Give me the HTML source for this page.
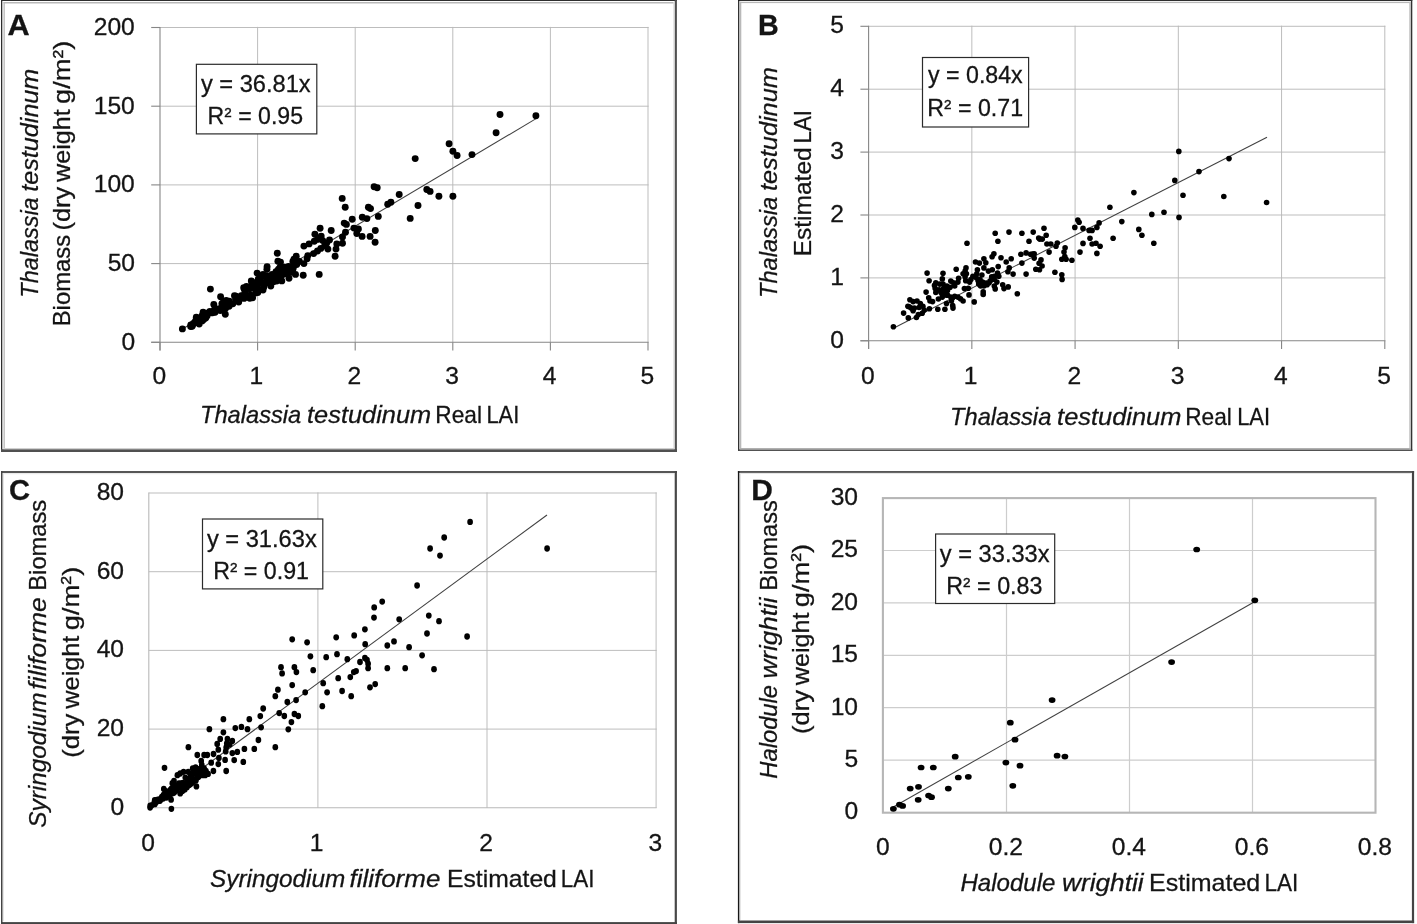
<!DOCTYPE html>
<html lang="en"><head><meta charset="utf-8"><title>Seagrass LAI vs biomass regressions</title>
<style>html,body{margin:0;padding:0;background:#fff;}body{width:1417px;height:924px;overflow:hidden;}</style></head>
<body><svg width="1417" height="924" viewBox="0 0 1417 924" style="display:block;filter:blur(0.35px)"><rect x="1.00" y="0.00" width="676.00" height="1.00" fill="#2e2e2e"/>
<rect x="1.00" y="0.00" width="1.30" height="452.00" fill="#2e2e2e"/>
<rect x="674.70" y="0.00" width="2.20" height="452.00" fill="#505050"/>
<rect x="1.00" y="449.20" width="676.00" height="2.80" fill="#505050"/>
<rect x="3.50" y="2.00" width="670.00" height="1.50" fill="#b9b9b9"/>
<rect x="3.50" y="2.00" width="1.30" height="446.50" fill="#b9b9b9"/>
<rect x="673.50" y="2.00" width="1.20" height="447.00" fill="#d0d0d0"/>
<rect x="3.50" y="448.00" width="671.00" height="1.20" fill="#d0d0d0"/>
<rect x="738.10" y="0.00" width="674.20" height="1.00" fill="#2e2e2e"/>
<rect x="738.10" y="0.00" width="1.20" height="450.80" fill="#1c1c1c"/>
<rect x="1410.90" y="0.00" width="1.40" height="450.80" fill="#333"/>
<rect x="738.10" y="449.40" width="674.20" height="1.50" fill="#404040"/>
<rect x="739.80" y="1.80" width="670.00" height="1.30" fill="#b9b9b9"/>
<rect x="739.80" y="1.80" width="1.50" height="447.00" fill="#b9b9b9"/>
<rect x="1409.30" y="1.80" width="1.60" height="447.60" fill="#bdbdbd"/>
<rect x="739.80" y="448.00" width="671.00" height="1.40" fill="#b0b0b0"/>
<rect x="1.00" y="471.10" width="676.00" height="1.80" fill="#444"/>
<rect x="1.00" y="471.10" width="1.50" height="453.00" fill="#444"/>
<rect x="674.70" y="471.10" width="2.20" height="453.00" fill="#484848"/>
<rect x="1.00" y="922.10" width="676.00" height="2.00" fill="#444"/>
<rect x="3.00" y="473.20" width="671.00" height="1.00" fill="#e6e6e6"/>
<rect x="3.00" y="473.20" width="1.00" height="448.00" fill="#e6e6e6"/>
<rect x="737.90" y="471.10" width="676.20" height="1.70" fill="#444"/>
<rect x="737.90" y="471.10" width="1.50" height="452.00" fill="#161616"/>
<rect x="1411.90" y="471.10" width="2.20" height="452.00" fill="#444"/>
<rect x="737.90" y="920.50" width="676.20" height="2.60" fill="#444"/>
<rect x="739.80" y="473.00" width="671.00" height="1.00" fill="#e6e6e6"/>
<rect x="739.80" y="473.00" width="1.20" height="447.00" fill="#e6e6e6"/>
<line x1="160.00" y1="263.60" x2="648.60" y2="263.60" stroke="#b9b9b9" stroke-width="0.95"/>
<line x1="160.00" y1="184.90" x2="648.60" y2="184.90" stroke="#b9b9b9" stroke-width="0.95"/>
<line x1="160.00" y1="106.20" x2="648.60" y2="106.20" stroke="#b9b9b9" stroke-width="0.95"/>
<line x1="160.00" y1="27.50" x2="648.60" y2="27.50" stroke="#b9b9b9" stroke-width="0.95"/>
<line x1="257.60" y1="26.90" x2="257.60" y2="342.30" stroke="#b9b9b9" stroke-width="0.95"/>
<line x1="355.20" y1="26.90" x2="355.20" y2="342.30" stroke="#b9b9b9" stroke-width="0.95"/>
<line x1="452.80" y1="26.90" x2="452.80" y2="342.30" stroke="#b9b9b9" stroke-width="0.95"/>
<line x1="550.40" y1="26.90" x2="550.40" y2="342.30" stroke="#b9b9b9" stroke-width="0.95"/>
<line x1="648.00" y1="26.90" x2="648.00" y2="342.30" stroke="#b9b9b9" stroke-width="0.95"/>
<line x1="151.20" y1="342.30" x2="160.00" y2="342.30" stroke="#868686" stroke-width="1.1"/>
<line x1="151.20" y1="263.60" x2="160.00" y2="263.60" stroke="#868686" stroke-width="1.1"/>
<line x1="151.20" y1="184.90" x2="160.00" y2="184.90" stroke="#868686" stroke-width="1.1"/>
<line x1="151.20" y1="106.20" x2="160.00" y2="106.20" stroke="#868686" stroke-width="1.1"/>
<line x1="151.20" y1="27.50" x2="160.00" y2="27.50" stroke="#868686" stroke-width="1.1"/>
<line x1="160.00" y1="342.30" x2="160.00" y2="350.50" stroke="#868686" stroke-width="1.1"/>
<line x1="257.60" y1="342.30" x2="257.60" y2="350.50" stroke="#868686" stroke-width="1.1"/>
<line x1="355.20" y1="342.30" x2="355.20" y2="350.50" stroke="#868686" stroke-width="1.1"/>
<line x1="452.80" y1="342.30" x2="452.80" y2="350.50" stroke="#868686" stroke-width="1.1"/>
<line x1="550.40" y1="342.30" x2="550.40" y2="350.50" stroke="#868686" stroke-width="1.1"/>
<line x1="648.00" y1="342.30" x2="648.00" y2="350.50" stroke="#868686" stroke-width="1.1"/>
<line x1="160.00" y1="26.90" x2="160.00" y2="350.50" stroke="#868686" stroke-width="1.1"/>
<line x1="151.20" y1="342.30" x2="648.60" y2="342.30" stroke="#868686" stroke-width="1.1"/>
<line x1="868.60" y1="277.90" x2="1385.40" y2="277.90" stroke="#b9b9b9" stroke-width="0.95"/>
<line x1="868.60" y1="215.00" x2="1385.40" y2="215.00" stroke="#b9b9b9" stroke-width="0.95"/>
<line x1="868.60" y1="152.10" x2="1385.40" y2="152.10" stroke="#b9b9b9" stroke-width="0.95"/>
<line x1="868.60" y1="89.20" x2="1385.40" y2="89.20" stroke="#b9b9b9" stroke-width="0.95"/>
<line x1="868.60" y1="26.30" x2="1385.40" y2="26.30" stroke="#b9b9b9" stroke-width="0.95"/>
<line x1="971.84" y1="25.70" x2="971.84" y2="340.80" stroke="#b9b9b9" stroke-width="0.95"/>
<line x1="1075.08" y1="25.70" x2="1075.08" y2="340.80" stroke="#b9b9b9" stroke-width="0.95"/>
<line x1="1178.32" y1="25.70" x2="1178.32" y2="340.80" stroke="#b9b9b9" stroke-width="0.95"/>
<line x1="1281.56" y1="25.70" x2="1281.56" y2="340.80" stroke="#b9b9b9" stroke-width="0.95"/>
<line x1="1384.80" y1="25.70" x2="1384.80" y2="340.80" stroke="#b9b9b9" stroke-width="0.95"/>
<line x1="860.40" y1="340.80" x2="868.60" y2="340.80" stroke="#868686" stroke-width="1.1"/>
<line x1="860.40" y1="277.90" x2="868.60" y2="277.90" stroke="#868686" stroke-width="1.1"/>
<line x1="860.40" y1="215.00" x2="868.60" y2="215.00" stroke="#868686" stroke-width="1.1"/>
<line x1="860.40" y1="152.10" x2="868.60" y2="152.10" stroke="#868686" stroke-width="1.1"/>
<line x1="860.40" y1="89.20" x2="868.60" y2="89.20" stroke="#868686" stroke-width="1.1"/>
<line x1="860.40" y1="26.30" x2="868.60" y2="26.30" stroke="#868686" stroke-width="1.1"/>
<line x1="868.60" y1="340.80" x2="868.60" y2="349.00" stroke="#868686" stroke-width="1.1"/>
<line x1="971.84" y1="340.80" x2="971.84" y2="349.00" stroke="#868686" stroke-width="1.1"/>
<line x1="1075.08" y1="340.80" x2="1075.08" y2="349.00" stroke="#868686" stroke-width="1.1"/>
<line x1="1178.32" y1="340.80" x2="1178.32" y2="349.00" stroke="#868686" stroke-width="1.1"/>
<line x1="1281.56" y1="340.80" x2="1281.56" y2="349.00" stroke="#868686" stroke-width="1.1"/>
<line x1="1384.80" y1="340.80" x2="1384.80" y2="349.00" stroke="#868686" stroke-width="1.1"/>
<line x1="868.60" y1="25.70" x2="868.60" y2="349.00" stroke="#868686" stroke-width="1.1"/>
<line x1="860.40" y1="340.80" x2="1385.40" y2="340.80" stroke="#868686" stroke-width="1.1"/>
<line x1="148.80" y1="729.10" x2="656.70" y2="729.10" stroke="#b9b9b9" stroke-width="0.95"/>
<line x1="148.80" y1="650.40" x2="656.70" y2="650.40" stroke="#b9b9b9" stroke-width="0.95"/>
<line x1="148.80" y1="571.70" x2="656.70" y2="571.70" stroke="#b9b9b9" stroke-width="0.95"/>
<line x1="148.80" y1="493.00" x2="656.70" y2="493.00" stroke="#b9b9b9" stroke-width="0.95"/>
<line x1="317.90" y1="492.40" x2="317.90" y2="807.80" stroke="#b9b9b9" stroke-width="0.95"/>
<line x1="487.00" y1="492.40" x2="487.00" y2="807.80" stroke="#b9b9b9" stroke-width="0.95"/>
<line x1="656.10" y1="492.40" x2="656.10" y2="807.80" stroke="#b9b9b9" stroke-width="0.95"/>
<line x1="148.80" y1="492.40" x2="148.80" y2="808.40" stroke="#b8b8b8" stroke-width="1.1"/>
<line x1="148.20" y1="807.80" x2="656.70" y2="807.80" stroke="#b8b8b8" stroke-width="1.1"/>
<line x1="883.50" y1="760.10" x2="1375.50" y2="760.10" stroke="#cdcdcd" stroke-width="1.2"/>
<line x1="883.50" y1="707.70" x2="1375.50" y2="707.70" stroke="#cdcdcd" stroke-width="1.2"/>
<line x1="883.50" y1="655.30" x2="1375.50" y2="655.30" stroke="#cdcdcd" stroke-width="1.2"/>
<line x1="883.50" y1="602.90" x2="1375.50" y2="602.90" stroke="#cdcdcd" stroke-width="1.2"/>
<line x1="883.50" y1="550.50" x2="1375.50" y2="550.50" stroke="#cdcdcd" stroke-width="1.2"/>
<line x1="1006.50" y1="498.10" x2="1006.50" y2="812.50" stroke="#cdcdcd" stroke-width="1.2"/>
<line x1="1129.50" y1="498.10" x2="1129.50" y2="812.50" stroke="#cdcdcd" stroke-width="1.2"/>
<line x1="1252.50" y1="498.10" x2="1252.50" y2="812.50" stroke="#cdcdcd" stroke-width="1.2"/>
<rect x="882.90" y="498.10" width="492.60" height="314.60" fill="none" stroke="#b6b6b6" stroke-width="2.1"/>
<line x1="182.40" y1="329.00" x2="536.50" y2="118.40" stroke="#404040" stroke-width="1.05"/>
<line x1="893.40" y1="328.20" x2="1267.00" y2="137.20" stroke="#404040" stroke-width="1.05"/>
<line x1="150.00" y1="806.60" x2="547.00" y2="515.00" stroke="#404040" stroke-width="1.05"/>
<line x1="893.30" y1="807.00" x2="1255.00" y2="601.50" stroke="#404040" stroke-width="1.05"/>
<g fill="#000"><circle cx="500.0" cy="114.5" r="3.45"/><circle cx="535.9" cy="115.8" r="3.45"/><circle cx="496.1" cy="132.7" r="3.45"/><circle cx="449.1" cy="143.7" r="3.45"/><circle cx="452.9" cy="151.3" r="3.45"/><circle cx="457.1" cy="155.5" r="3.45"/><circle cx="472.0" cy="154.6" r="3.45"/><circle cx="415.2" cy="158.6" r="3.45"/><circle cx="426.8" cy="189.5" r="3.45"/><circle cx="430.1" cy="191.4" r="3.45"/><circle cx="438.9" cy="196.3" r="3.45"/><circle cx="452.9" cy="196.3" r="3.45"/><circle cx="399.2" cy="194.5" r="3.45"/><circle cx="390.9" cy="202.2" r="3.45"/><circle cx="418.0" cy="205.5" r="3.45"/><circle cx="410.2" cy="218.4" r="3.45"/><circle cx="342.2" cy="198.4" r="3.45"/><circle cx="345.2" cy="207.3" r="3.45"/><circle cx="368.4" cy="207.3" r="3.45"/><circle cx="370.5" cy="208.6" r="3.45"/><circle cx="387.7" cy="204.3" r="3.45"/><circle cx="378.3" cy="216.4" r="3.45"/><circle cx="362.3" cy="217.3" r="3.45"/><circle cx="366.9" cy="218.6" r="3.45"/><circle cx="352.2" cy="219.2" r="3.45"/><circle cx="344.2" cy="223.1" r="3.45"/><circle cx="346.4" cy="224.4" r="3.45"/><circle cx="353.9" cy="228.1" r="3.45"/><circle cx="358.4" cy="229.0" r="3.45"/><circle cx="356.8" cy="233.5" r="3.45"/><circle cx="362.1" cy="236.4" r="3.45"/><circle cx="370.1" cy="236.4" r="3.45"/><circle cx="375.3" cy="230.5" r="3.45"/><circle cx="375.1" cy="242.3" r="3.45"/><circle cx="320.1" cy="228.3" r="3.45"/><circle cx="331.2" cy="230.5" r="3.45"/><circle cx="314.9" cy="234.2" r="3.45"/><circle cx="321.2" cy="236.1" r="3.45"/><circle cx="345.5" cy="232.2" r="3.45"/><circle cx="342.5" cy="237.0" r="3.45"/><circle cx="329.5" cy="240.0" r="3.45"/><circle cx="342.5" cy="243.2" r="3.45"/><circle cx="336.8" cy="243.9" r="3.45"/><circle cx="336.0" cy="249.1" r="3.45"/><circle cx="335.1" cy="256.2" r="3.45"/><circle cx="303.9" cy="246.1" r="3.45"/><circle cx="309.1" cy="243.9" r="3.45"/><circle cx="314.3" cy="241.3" r="3.45"/><circle cx="317.5" cy="239.4" r="3.45"/><circle cx="322.7" cy="240.6" r="3.45"/><circle cx="326.6" cy="243.2" r="3.45"/><circle cx="324.7" cy="245.8" r="3.45"/><circle cx="320.8" cy="248.4" r="3.45"/><circle cx="327.9" cy="249.1" r="3.45"/><circle cx="317.5" cy="251.0" r="3.45"/><circle cx="313.6" cy="253.6" r="3.45"/><circle cx="307.8" cy="255.6" r="3.45"/><circle cx="307.1" cy="258.8" r="3.45"/><circle cx="277.3" cy="253.2" r="3.45"/><circle cx="277.9" cy="261.2" r="3.45"/><circle cx="280.5" cy="262.1" r="3.45"/><circle cx="292.9" cy="261.4" r="3.45"/><circle cx="294.8" cy="264.0" r="3.45"/><circle cx="299.4" cy="261.4" r="3.45"/><circle cx="303.9" cy="263.6" r="3.45"/><circle cx="267.1" cy="266.6" r="3.45"/><circle cx="266.9" cy="269.2" r="3.45"/><circle cx="257.1" cy="273.1" r="3.45"/><circle cx="263.0" cy="274.4" r="3.45"/><circle cx="276.0" cy="271.8" r="3.45"/><circle cx="278.6" cy="269.2" r="3.45"/><circle cx="282.5" cy="270.5" r="3.45"/><circle cx="286.4" cy="267.9" r="3.45"/><circle cx="289.0" cy="271.8" r="3.45"/><circle cx="292.9" cy="269.2" r="3.45"/><circle cx="295.5" cy="274.4" r="3.45"/><circle cx="303.2" cy="275.3" r="3.45"/><circle cx="319.2" cy="274.4" r="3.45"/><circle cx="289.0" cy="278.3" r="3.45"/><circle cx="281.8" cy="280.9" r="3.45"/><circle cx="273.4" cy="278.3" r="3.45"/><circle cx="269.5" cy="280.9" r="3.45"/><circle cx="265.6" cy="283.5" r="3.45"/><circle cx="270.8" cy="286.1" r="3.45"/><circle cx="263.0" cy="290.0" r="3.45"/><circle cx="257.8" cy="292.6" r="3.45"/><circle cx="252.6" cy="297.8" r="3.45"/><circle cx="251.3" cy="280.9" r="3.45"/><circle cx="255.2" cy="286.1" r="3.45"/><circle cx="259.1" cy="283.5" r="3.45"/><circle cx="285.7" cy="273.1" r="3.45"/><circle cx="279.9" cy="275.7" r="3.45"/><circle cx="276.0" cy="277.0" r="3.45"/><circle cx="272.1" cy="274.4" r="3.45"/><circle cx="374.1" cy="186.8" r="3.45"/><circle cx="377.2" cy="187.7" r="3.45"/><circle cx="182.4" cy="328.9" r="3.45"/><circle cx="210.4" cy="289.1" r="3.45"/><circle cx="225.3" cy="314.3" r="3.45"/><circle cx="220.6" cy="296.7" r="3.45"/><circle cx="213.8" cy="304.5" r="3.45"/><circle cx="203.1" cy="312.3" r="3.45"/><circle cx="196.3" cy="317.2" r="3.45"/><circle cx="192.4" cy="325.0" r="3.45"/><circle cx="199.2" cy="324.0" r="3.45"/><circle cx="249.8" cy="298.2" r="3.45"/><circle cx="221.9" cy="303.6" r="3.45"/><circle cx="258.2" cy="279.2" r="3.45"/><circle cx="245.1" cy="291.2" r="3.45"/><circle cx="195.2" cy="322.6" r="3.45"/><circle cx="193.4" cy="323.4" r="3.45"/><circle cx="196.3" cy="319.9" r="3.45"/><circle cx="232.8" cy="303.8" r="3.45"/><circle cx="201.4" cy="317.3" r="3.45"/><circle cx="255.5" cy="293.1" r="3.45"/><circle cx="249.8" cy="288.8" r="3.45"/><circle cx="296.2" cy="256.3" r="3.45"/><circle cx="282.2" cy="268.0" r="3.45"/><circle cx="203.4" cy="315.4" r="3.45"/><circle cx="220.3" cy="310.5" r="3.45"/><circle cx="207.0" cy="316.1" r="3.45"/><circle cx="256.8" cy="284.3" r="3.45"/><circle cx="246.5" cy="286.5" r="3.45"/><circle cx="195.4" cy="321.1" r="3.45"/><circle cx="261.5" cy="282.2" r="3.45"/><circle cx="220.9" cy="308.1" r="3.45"/><circle cx="235.9" cy="296.2" r="3.45"/><circle cx="274.7" cy="278.2" r="3.45"/><circle cx="213.5" cy="312.3" r="3.45"/><circle cx="243.9" cy="298.4" r="3.45"/><circle cx="267.2" cy="276.9" r="3.45"/><circle cx="204.2" cy="317.2" r="3.45"/><circle cx="271.3" cy="278.5" r="3.45"/><circle cx="284.2" cy="267.1" r="3.45"/><circle cx="263.2" cy="283.5" r="3.45"/><circle cx="280.1" cy="278.4" r="3.45"/><circle cx="238.2" cy="299.0" r="3.45"/><circle cx="277.9" cy="270.5" r="3.45"/><circle cx="228.6" cy="304.5" r="3.45"/><circle cx="205.8" cy="313.9" r="3.45"/><circle cx="229.1" cy="306.3" r="3.45"/><circle cx="197.3" cy="321.1" r="3.45"/><circle cx="246.6" cy="297.1" r="3.45"/><circle cx="277.6" cy="278.8" r="3.45"/><circle cx="217.1" cy="308.9" r="3.45"/><circle cx="225.6" cy="308.2" r="3.45"/><circle cx="294.0" cy="259.1" r="3.45"/><circle cx="251.1" cy="286.1" r="3.45"/><circle cx="190.8" cy="324.9" r="3.45"/><circle cx="226.8" cy="304.5" r="3.45"/><circle cx="293.4" cy="267.0" r="3.45"/><circle cx="242.8" cy="295.8" r="3.45"/><circle cx="261.1" cy="277.3" r="3.45"/><circle cx="287.1" cy="272.0" r="3.45"/><circle cx="284.1" cy="274.0" r="3.45"/><circle cx="229.3" cy="301.3" r="3.45"/><circle cx="199.5" cy="320.8" r="3.45"/><circle cx="209.9" cy="311.5" r="3.45"/><circle cx="223.6" cy="301.5" r="3.45"/><circle cx="199.3" cy="319.5" r="3.45"/><circle cx="254.0" cy="282.8" r="3.45"/><circle cx="214.3" cy="310.0" r="3.45"/><circle cx="226.2" cy="300.5" r="3.45"/><circle cx="237.3" cy="297.4" r="3.45"/><circle cx="197.8" cy="319.0" r="3.45"/><circle cx="223.9" cy="303.4" r="3.45"/><circle cx="192.2" cy="326.3" r="3.45"/><circle cx="244.3" cy="289.0" r="3.45"/><circle cx="282.8" cy="273.3" r="3.45"/><circle cx="205.7" cy="318.1" r="3.45"/><circle cx="244.8" cy="296.7" r="3.45"/><circle cx="276.7" cy="281.0" r="3.45"/><circle cx="281.5" cy="275.6" r="3.45"/><circle cx="277.5" cy="277.1" r="3.45"/><circle cx="211.7" cy="312.9" r="3.45"/><circle cx="215.1" cy="312.3" r="3.45"/><circle cx="291.5" cy="272.3" r="3.45"/><circle cx="208.6" cy="312.6" r="3.45"/><circle cx="280.1" cy="271.9" r="3.45"/><circle cx="258.4" cy="289.3" r="3.45"/><circle cx="269.6" cy="278.1" r="3.45"/><circle cx="222.8" cy="309.0" r="3.45"/><circle cx="295.6" cy="261.5" r="3.45"/><circle cx="266.6" cy="275.6" r="3.45"/><circle cx="203.6" cy="319.6" r="3.45"/><circle cx="296.7" cy="264.6" r="3.45"/><circle cx="224.7" cy="305.5" r="3.45"/><circle cx="202.1" cy="315.7" r="3.45"/><circle cx="202.1" cy="320.9" r="3.45"/><circle cx="250.5" cy="295.3" r="3.45"/><circle cx="241.3" cy="295.6" r="3.45"/><circle cx="243.7" cy="287.7" r="3.45"/><circle cx="234.5" cy="295.8" r="3.45"/><circle cx="190.7" cy="326.5" r="3.45"/><circle cx="266.7" cy="280.9" r="3.45"/><circle cx="222.1" cy="306.8" r="3.45"/><circle cx="247.3" cy="295.4" r="3.45"/><circle cx="272.2" cy="277.0" r="3.45"/><circle cx="288.6" cy="266.4" r="3.45"/><circle cx="253.8" cy="287.9" r="3.45"/><circle cx="235.8" cy="298.9" r="3.45"/><circle cx="238.7" cy="302.0" r="3.45"/><circle cx="263.7" cy="287.2" r="3.45"/><circle cx="280.1" cy="267.1" r="3.45"/><circle cx="201.2" cy="318.7" r="3.45"/><circle cx="196.6" cy="322.6" r="3.45"/><circle cx="273.5" cy="281.7" r="3.45"/></g>
<g fill="#000"><circle cx="893.4" cy="326.7" r="2.8"/><circle cx="908.3" cy="317.9" r="2.8"/><circle cx="903.6" cy="313.1" r="2.8"/><circle cx="916.4" cy="317.5" r="2.8"/><circle cx="918.3" cy="314.6" r="2.8"/><circle cx="922.2" cy="313.3" r="2.8"/><circle cx="924.2" cy="310.1" r="2.8"/><circle cx="913.1" cy="310.7" r="2.8"/><circle cx="909.2" cy="306.8" r="2.8"/><circle cx="911.2" cy="308.1" r="2.8"/><circle cx="907.9" cy="306.2" r="2.8"/><circle cx="909.9" cy="299.7" r="2.8"/><circle cx="913.1" cy="301.6" r="2.8"/><circle cx="917.0" cy="301.0" r="2.8"/><circle cx="919.0" cy="307.5" r="2.8"/><circle cx="922.9" cy="306.2" r="2.8"/><circle cx="929.4" cy="308.8" r="2.8"/><circle cx="937.8" cy="309.2" r="2.8"/><circle cx="944.9" cy="309.2" r="2.8"/><circle cx="953.0" cy="308.1" r="2.8"/><circle cx="952.7" cy="305.5" r="2.8"/><circle cx="946.5" cy="303.6" r="2.8"/><circle cx="928.7" cy="297.7" r="2.8"/><circle cx="930.0" cy="301.0" r="2.8"/><circle cx="932.6" cy="301.6" r="2.8"/><circle cx="926.1" cy="292.1" r="2.8"/><circle cx="927.1" cy="273.1" r="2.8"/><circle cx="929.1" cy="280.8" r="2.8"/><circle cx="935.8" cy="282.8" r="2.8"/><circle cx="934.5" cy="285.4" r="2.8"/><circle cx="935.2" cy="288.6" r="2.8"/><circle cx="935.8" cy="292.5" r="2.8"/><circle cx="939.7" cy="284.1" r="2.8"/><circle cx="942.3" cy="278.9" r="2.8"/><circle cx="943.0" cy="273.3" r="2.8"/><circle cx="943.6" cy="288.6" r="2.8"/><circle cx="941.0" cy="292.5" r="2.8"/><circle cx="944.9" cy="292.5" r="2.8"/><circle cx="947.5" cy="290.6" r="2.8"/><circle cx="946.9" cy="286.0" r="2.8"/><circle cx="950.8" cy="281.1" r="2.8"/><circle cx="953.4" cy="282.8" r="2.8"/><circle cx="957.9" cy="282.1" r="2.8"/><circle cx="958.6" cy="278.2" r="2.8"/><circle cx="956.2" cy="269.2" r="2.8"/><circle cx="967.0" cy="243.2" r="2.8"/><circle cx="938.4" cy="299.0" r="2.8"/><circle cx="942.3" cy="297.1" r="2.8"/><circle cx="947.5" cy="295.1" r="2.8"/><circle cx="950.8" cy="297.1" r="2.8"/><circle cx="954.7" cy="296.2" r="2.8"/><circle cx="957.9" cy="297.1" r="2.8"/><circle cx="960.5" cy="298.8" r="2.8"/><circle cx="963.1" cy="301.0" r="2.8"/><circle cx="951.4" cy="301.0" r="2.8"/><circle cx="969.0" cy="294.9" r="2.8"/><circle cx="974.2" cy="301.9" r="2.8"/><circle cx="964.4" cy="288.6" r="2.8"/><circle cx="968.3" cy="288.2" r="2.8"/><circle cx="965.7" cy="280.8" r="2.8"/><circle cx="969.6" cy="282.1" r="2.8"/><circle cx="965.1" cy="276.9" r="2.8"/><circle cx="963.1" cy="273.7" r="2.8"/><circle cx="965.1" cy="271.1" r="2.8"/><circle cx="966.0" cy="267.9" r="2.8"/><circle cx="972.9" cy="276.3" r="2.8"/><circle cx="975.5" cy="262.0" r="2.8"/><circle cx="979.4" cy="263.1" r="2.8"/><circle cx="983.9" cy="258.8" r="2.8"/><circle cx="985.8" cy="262.7" r="2.8"/><circle cx="983.9" cy="267.9" r="2.8"/><circle cx="977.4" cy="269.8" r="2.8"/><circle cx="976.8" cy="273.7" r="2.8"/><circle cx="976.1" cy="277.6" r="2.8"/><circle cx="978.1" cy="280.8" r="2.8"/><circle cx="981.9" cy="275.0" r="2.8"/><circle cx="982.6" cy="282.1" r="2.8"/><circle cx="980.6" cy="286.0" r="2.8"/><circle cx="983.9" cy="286.0" r="2.8"/><circle cx="983.2" cy="291.9" r="2.8"/><circle cx="983.2" cy="294.5" r="2.8"/><circle cx="987.1" cy="284.7" r="2.8"/><circle cx="989.1" cy="282.8" r="2.8"/><circle cx="988.4" cy="271.1" r="2.8"/><circle cx="992.3" cy="269.8" r="2.8"/><circle cx="991.7" cy="276.9" r="2.8"/><circle cx="994.3" cy="279.5" r="2.8"/><circle cx="996.9" cy="282.1" r="2.8"/><circle cx="994.3" cy="286.0" r="2.8"/><circle cx="995.2" cy="288.9" r="2.8"/><circle cx="998.2" cy="266.6" r="2.8"/><circle cx="997.5" cy="273.1" r="2.8"/><circle cx="998.8" cy="276.3" r="2.8"/><circle cx="993.9" cy="253.8" r="2.8"/><circle cx="992.1" cy="256.8" r="2.8"/><circle cx="1001.0" cy="257.7" r="2.8"/><circle cx="1006.2" cy="262.0" r="2.8"/><circle cx="1011.2" cy="258.8" r="2.8"/><circle cx="1009.2" cy="267.9" r="2.8"/><circle cx="1007.9" cy="271.8" r="2.8"/><circle cx="1013.1" cy="274.1" r="2.8"/><circle cx="1002.7" cy="284.7" r="2.8"/><circle cx="1004.0" cy="288.6" r="2.8"/><circle cx="1008.2" cy="286.9" r="2.8"/><circle cx="1017.3" cy="293.8" r="2.8"/><circle cx="1026.1" cy="274.1" r="2.8"/><circle cx="1021.9" cy="263.1" r="2.8"/><circle cx="1020.9" cy="254.2" r="2.8"/><circle cx="1026.1" cy="252.9" r="2.8"/><circle cx="1030.6" cy="254.2" r="2.8"/><circle cx="1034.2" cy="253.8" r="2.8"/><circle cx="1034.2" cy="258.1" r="2.8"/><circle cx="1035.8" cy="269.2" r="2.8"/><circle cx="1039.1" cy="263.3" r="2.8"/><circle cx="1039.5" cy="269.8" r="2.8"/><circle cx="995.2" cy="233.2" r="2.8"/><circle cx="997.9" cy="241.2" r="2.8"/><circle cx="1009.0" cy="232.1" r="2.8"/><circle cx="1021.9" cy="233.2" r="2.8"/><circle cx="1029.0" cy="241.2" r="2.8"/><circle cx="1033.2" cy="232.1" r="2.8"/><circle cx="1038.7" cy="238.0" r="2.8"/><circle cx="1044.0" cy="228.3" r="2.8"/><circle cx="1046.2" cy="235.2" r="2.8"/><circle cx="1039.7" cy="239.1" r="2.8"/><circle cx="1042.3" cy="239.1" r="2.8"/><circle cx="1046.9" cy="244.0" r="2.8"/><circle cx="1050.8" cy="244.0" r="2.8"/><circle cx="1057.3" cy="243.0" r="2.8"/><circle cx="1056.0" cy="246.2" r="2.8"/><circle cx="1049.1" cy="252.1" r="2.8"/><circle cx="1032.6" cy="254.0" r="2.8"/><circle cx="1041.0" cy="259.9" r="2.8"/><circle cx="1042.1" cy="266.0" r="2.8"/><circle cx="1054.9" cy="272.2" r="2.8"/><circle cx="1061.8" cy="274.8" r="2.8"/><circle cx="1062.1" cy="279.4" r="2.8"/><circle cx="1065.1" cy="247.8" r="2.8"/><circle cx="1064.0" cy="252.1" r="2.8"/><circle cx="1064.8" cy="256.6" r="2.8"/><circle cx="1061.8" cy="259.2" r="2.8"/><circle cx="1066.1" cy="259.2" r="2.8"/><circle cx="1071.9" cy="260.3" r="2.8"/><circle cx="1074.8" cy="227.4" r="2.8"/><circle cx="1077.8" cy="220.0" r="2.8"/><circle cx="1079.1" cy="222.2" r="2.8"/><circle cx="1083.0" cy="228.4" r="2.8"/><circle cx="1089.1" cy="230.4" r="2.8"/><circle cx="1092.1" cy="230.4" r="2.8"/><circle cx="1096.9" cy="227.4" r="2.8"/><circle cx="1099.1" cy="222.9" r="2.8"/><circle cx="1090.0" cy="238.2" r="2.8"/><circle cx="1083.0" cy="243.4" r="2.8"/><circle cx="1092.1" cy="244.0" r="2.8"/><circle cx="1096.0" cy="243.2" r="2.8"/><circle cx="1100.1" cy="246.2" r="2.8"/><circle cx="1080.0" cy="252.1" r="2.8"/><circle cx="1096.9" cy="253.4" r="2.8"/><circle cx="1109.9" cy="207.3" r="2.8"/><circle cx="1121.8" cy="221.6" r="2.8"/><circle cx="1113.1" cy="238.2" r="2.8"/><circle cx="1133.9" cy="192.6" r="2.8"/><circle cx="1138.8" cy="229.4" r="2.8"/><circle cx="1141.9" cy="235.2" r="2.8"/><circle cx="1151.8" cy="214.4" r="2.8"/><circle cx="1153.8" cy="243.2" r="2.8"/><circle cx="1164.0" cy="212.2" r="2.8"/><circle cx="1179.0" cy="217.4" r="2.8"/><circle cx="1183.0" cy="195.3" r="2.8"/><circle cx="1174.8" cy="180.4" r="2.8"/><circle cx="1178.8" cy="151.4" r="2.8"/><circle cx="1229.0" cy="158.6" r="2.8"/><circle cx="1199.0" cy="171.6" r="2.8"/><circle cx="1223.8" cy="196.5" r="2.8"/><circle cx="1266.6" cy="202.5" r="2.8"/><circle cx="914.4" cy="308.1" r="2.8"/><circle cx="920.3" cy="303.6" r="2.8"/><circle cx="939.1" cy="289.9" r="2.8"/><circle cx="943.0" cy="284.1" r="2.8"/><circle cx="946.2" cy="295.1" r="2.8"/><circle cx="950.1" cy="287.3" r="2.8"/><circle cx="954.7" cy="286.0" r="2.8"/><circle cx="942.3" cy="294.5" r="2.8"/><circle cx="952.7" cy="297.7" r="2.8"/><circle cx="966.4" cy="273.7" r="2.8"/><circle cx="970.9" cy="279.5" r="2.8"/><circle cx="980.0" cy="279.5" r="2.8"/><circle cx="985.2" cy="283.4" r="2.8"/><circle cx="990.4" cy="280.8" r="2.8"/><circle cx="994.3" cy="276.3" r="2.8"/><circle cx="978.7" cy="284.1" r="2.8"/></g>
<g fill="#000"><ellipse cx="150.1" cy="807.6" rx="2.85" ry="3.15"/><ellipse cx="151.8" cy="805.3" rx="2.85" ry="3.15"/><ellipse cx="154.1" cy="803.1" rx="2.85" ry="3.15"/><ellipse cx="156.4" cy="801.9" rx="2.85" ry="3.15"/><ellipse cx="154.7" cy="800.2" rx="2.85" ry="3.15"/><ellipse cx="158.6" cy="800.8" rx="2.85" ry="3.15"/><ellipse cx="160.9" cy="799.1" rx="2.85" ry="3.15"/><ellipse cx="163.2" cy="798.5" rx="2.85" ry="3.15"/><ellipse cx="165.5" cy="796.8" rx="2.85" ry="3.15"/><ellipse cx="167.7" cy="796.2" rx="2.85" ry="3.15"/><ellipse cx="171.1" cy="799.7" rx="2.85" ry="3.15"/><ellipse cx="171.4" cy="808.8" rx="2.85" ry="3.15"/><ellipse cx="163.8" cy="788.9" rx="2.85" ry="3.15"/><ellipse cx="166.0" cy="791.1" rx="2.85" ry="3.15"/><ellipse cx="168.3" cy="793.4" rx="2.85" ry="3.15"/><ellipse cx="164.5" cy="767.8" rx="2.85" ry="3.15"/><ellipse cx="172.3" cy="783.2" rx="2.85" ry="3.15"/><ellipse cx="174.0" cy="780.9" rx="2.85" ry="3.15"/><ellipse cx="175.7" cy="785.5" rx="2.85" ry="3.15"/><ellipse cx="177.4" cy="775.2" rx="2.85" ry="3.15"/><ellipse cx="180.2" cy="773.5" rx="2.85" ry="3.15"/><ellipse cx="183.6" cy="771.8" rx="2.85" ry="3.15"/><ellipse cx="179.1" cy="787.7" rx="2.85" ry="3.15"/><ellipse cx="180.2" cy="793.4" rx="2.85" ry="3.15"/><ellipse cx="182.5" cy="791.1" rx="2.85" ry="3.15"/><ellipse cx="184.8" cy="789.4" rx="2.85" ry="3.15"/><ellipse cx="187.0" cy="787.2" rx="2.85" ry="3.15"/><ellipse cx="189.3" cy="784.9" rx="2.85" ry="3.15"/><ellipse cx="191.6" cy="783.2" rx="2.85" ry="3.15"/><ellipse cx="196.4" cy="786.4" rx="2.85" ry="3.15"/><ellipse cx="193.9" cy="780.9" rx="2.85" ry="3.15"/><ellipse cx="196.1" cy="778.6" rx="2.85" ry="3.15"/><ellipse cx="198.4" cy="776.9" rx="2.85" ry="3.15"/><ellipse cx="192.7" cy="768.4" rx="2.85" ry="3.15"/><ellipse cx="195.6" cy="767.3" rx="2.85" ry="3.15"/><ellipse cx="188.2" cy="771.8" rx="2.85" ry="3.15"/><ellipse cx="190.5" cy="774.1" rx="2.85" ry="3.15"/><ellipse cx="198.4" cy="770.7" rx="2.85" ry="3.15"/><ellipse cx="201.2" cy="761.0" rx="2.85" ry="3.15"/><ellipse cx="201.8" cy="765.0" rx="2.85" ry="3.15"/><ellipse cx="200.7" cy="768.4" rx="2.85" ry="3.15"/><ellipse cx="203.0" cy="771.8" rx="2.85" ry="3.15"/><ellipse cx="206.4" cy="773.0" rx="2.85" ry="3.15"/><ellipse cx="205.2" cy="775.2" rx="2.85" ry="3.15"/><ellipse cx="188.4" cy="747.2" rx="2.85" ry="3.15"/><ellipse cx="197.3" cy="755.0" rx="2.85" ry="3.15"/><ellipse cx="204.1" cy="755.0" rx="2.85" ry="3.15"/><ellipse cx="207.3" cy="755.0" rx="2.85" ry="3.15"/><ellipse cx="213.5" cy="754.0" rx="2.85" ry="3.15"/><ellipse cx="209.4" cy="729.2" rx="2.85" ry="3.15"/><ellipse cx="211.2" cy="762.7" rx="2.85" ry="3.15"/><ellipse cx="213.4" cy="771.0" rx="2.85" ry="3.15"/><ellipse cx="218.3" cy="764.1" rx="2.85" ry="3.15"/><ellipse cx="218.9" cy="758.0" rx="2.85" ry="3.15"/><ellipse cx="218.3" cy="749.7" rx="2.85" ry="3.15"/><ellipse cx="217.2" cy="744.0" rx="2.85" ry="3.15"/><ellipse cx="220.2" cy="738.9" rx="2.85" ry="3.15"/><ellipse cx="223.4" cy="732.3" rx="2.85" ry="3.15"/><ellipse cx="223.4" cy="719.2" rx="2.85" ry="3.15"/><ellipse cx="226.2" cy="771.0" rx="2.85" ry="3.15"/><ellipse cx="225.1" cy="759.9" rx="2.85" ry="3.15"/><ellipse cx="225.7" cy="751.4" rx="2.85" ry="3.15"/><ellipse cx="226.2" cy="747.4" rx="2.85" ry="3.15"/><ellipse cx="226.8" cy="743.4" rx="2.85" ry="3.15"/><ellipse cx="227.4" cy="738.9" rx="2.85" ry="3.15"/><ellipse cx="229.7" cy="744.5" rx="2.85" ry="3.15"/><ellipse cx="232.3" cy="740.9" rx="2.85" ry="3.15"/><ellipse cx="232.3" cy="753.1" rx="2.85" ry="3.15"/><ellipse cx="234.2" cy="760.1" rx="2.85" ry="3.15"/><ellipse cx="237.3" cy="751.9" rx="2.85" ry="3.15"/><ellipse cx="235.3" cy="728.1" rx="2.85" ry="3.15"/><ellipse cx="241.4" cy="726.9" rx="2.85" ry="3.15"/><ellipse cx="243.3" cy="761.9" rx="2.85" ry="3.15"/><ellipse cx="244.4" cy="748.9" rx="2.85" ry="3.15"/><ellipse cx="247.5" cy="729.2" rx="2.85" ry="3.15"/><ellipse cx="249.3" cy="719.2" rx="2.85" ry="3.15"/><ellipse cx="254.3" cy="748.9" rx="2.85" ry="3.15"/><ellipse cx="258.4" cy="740.0" rx="2.85" ry="3.15"/><ellipse cx="261.1" cy="727.3" rx="2.85" ry="3.15"/><ellipse cx="260.3" cy="716.1" rx="2.85" ry="3.15"/><ellipse cx="275.3" cy="747.2" rx="2.85" ry="3.15"/><ellipse cx="292.2" cy="639.3" rx="2.85" ry="3.15"/><ellipse cx="307.1" cy="642.3" rx="2.85" ry="3.15"/><ellipse cx="310.4" cy="656.3" rx="2.85" ry="3.15"/><ellipse cx="281.0" cy="667.2" rx="2.85" ry="3.15"/><ellipse cx="282.1" cy="673.4" rx="2.85" ry="3.15"/><ellipse cx="294.4" cy="667.2" rx="2.85" ry="3.15"/><ellipse cx="296.4" cy="672.1" rx="2.85" ry="3.15"/><ellipse cx="313.2" cy="670.2" rx="2.85" ry="3.15"/><ellipse cx="292.2" cy="685.1" rx="2.85" ry="3.15"/><ellipse cx="277.9" cy="689.7" rx="2.85" ry="3.15"/><ellipse cx="275.3" cy="696.2" rx="2.85" ry="3.15"/><ellipse cx="305.2" cy="692.3" rx="2.85" ry="3.15"/><ellipse cx="296.1" cy="700.1" rx="2.85" ry="3.15"/><ellipse cx="287.3" cy="702.0" rx="2.85" ry="3.15"/><ellipse cx="263.2" cy="708.5" rx="2.85" ry="3.15"/><ellipse cx="279.2" cy="713.1" rx="2.85" ry="3.15"/><ellipse cx="284.3" cy="716.0" rx="2.85" ry="3.15"/><ellipse cx="294.4" cy="714.0" rx="2.85" ry="3.15"/><ellipse cx="298.3" cy="716.0" rx="2.85" ry="3.15"/><ellipse cx="291.4" cy="722.1" rx="2.85" ry="3.15"/><ellipse cx="288.3" cy="729.3" rx="2.85" ry="3.15"/><ellipse cx="326.2" cy="657.2" rx="2.85" ry="3.15"/><ellipse cx="337.0" cy="654.2" rx="2.85" ry="3.15"/><ellipse cx="336.2" cy="637.3" rx="2.85" ry="3.15"/><ellipse cx="347.3" cy="659.2" rx="2.85" ry="3.15"/><ellipse cx="354.2" cy="635.4" rx="2.85" ry="3.15"/><ellipse cx="364.9" cy="629.3" rx="2.85" ry="3.15"/><ellipse cx="365.2" cy="644.2" rx="2.85" ry="3.15"/><ellipse cx="374.0" cy="617.6" rx="2.85" ry="3.15"/><ellipse cx="364.9" cy="657.9" rx="2.85" ry="3.15"/><ellipse cx="360.0" cy="662.0" rx="2.85" ry="3.15"/><ellipse cx="368.1" cy="663.7" rx="2.85" ry="3.15"/><ellipse cx="368.1" cy="668.2" rx="2.85" ry="3.15"/><ellipse cx="356.1" cy="671.1" rx="2.85" ry="3.15"/><ellipse cx="353.8" cy="672.1" rx="2.85" ry="3.15"/><ellipse cx="350.3" cy="677.1" rx="2.85" ry="3.15"/><ellipse cx="338.2" cy="678.2" rx="2.85" ry="3.15"/><ellipse cx="323.2" cy="683.2" rx="2.85" ry="3.15"/><ellipse cx="327.1" cy="692.3" rx="2.85" ry="3.15"/><ellipse cx="342.1" cy="691.0" rx="2.85" ry="3.15"/><ellipse cx="351.2" cy="696.2" rx="2.85" ry="3.15"/><ellipse cx="322.3" cy="706.2" rx="2.85" ry="3.15"/><ellipse cx="370.0" cy="687.3" rx="2.85" ry="3.15"/><ellipse cx="375.2" cy="684.1" rx="2.85" ry="3.15"/><ellipse cx="387.3" cy="668.2" rx="2.85" ry="3.15"/><ellipse cx="405.2" cy="668.2" rx="2.85" ry="3.15"/><ellipse cx="387.3" cy="645.5" rx="2.85" ry="3.15"/><ellipse cx="394.0" cy="641.4" rx="2.85" ry="3.15"/><ellipse cx="409.1" cy="647.2" rx="2.85" ry="3.15"/><ellipse cx="399.2" cy="619.3" rx="2.85" ry="3.15"/><ellipse cx="470.1" cy="521.9" rx="2.85" ry="3.15"/><ellipse cx="444.2" cy="537.5" rx="2.85" ry="3.15"/><ellipse cx="430.1" cy="548.5" rx="2.85" ry="3.15"/><ellipse cx="440.0" cy="555.6" rx="2.85" ry="3.15"/><ellipse cx="547.1" cy="548.5" rx="2.85" ry="3.15"/><ellipse cx="417.1" cy="585.5" rx="2.85" ry="3.15"/><ellipse cx="428.8" cy="615.6" rx="2.85" ry="3.15"/><ellipse cx="439.0" cy="621.2" rx="2.85" ry="3.15"/><ellipse cx="427.0" cy="633.5" rx="2.85" ry="3.15"/><ellipse cx="467.1" cy="636.5" rx="2.85" ry="3.15"/><ellipse cx="422.1" cy="655.3" rx="2.85" ry="3.15"/><ellipse cx="434.0" cy="669.2" rx="2.85" ry="3.15"/><ellipse cx="382.2" cy="601.6" rx="2.85" ry="3.15"/><ellipse cx="374.2" cy="607.4" rx="2.85" ry="3.15"/><ellipse cx="367.0" cy="660.0" rx="2.85" ry="3.15"/><ellipse cx="173.9" cy="790.8" rx="2.85" ry="3.15"/><ellipse cx="201.2" cy="771.3" rx="2.85" ry="3.15"/><ellipse cx="177.2" cy="788.8" rx="2.85" ry="3.15"/><ellipse cx="185.3" cy="785.5" rx="2.85" ry="3.15"/><ellipse cx="154.9" cy="804.2" rx="2.85" ry="3.15"/><ellipse cx="185.3" cy="777.6" rx="2.85" ry="3.15"/><ellipse cx="208.1" cy="773.9" rx="2.85" ry="3.15"/><ellipse cx="185.8" cy="783.4" rx="2.85" ry="3.15"/><ellipse cx="156.8" cy="799.9" rx="2.85" ry="3.15"/><ellipse cx="158.9" cy="799.3" rx="2.85" ry="3.15"/><ellipse cx="174.2" cy="792.6" rx="2.85" ry="3.15"/><ellipse cx="173.2" cy="789.1" rx="2.85" ry="3.15"/><ellipse cx="165.3" cy="794.5" rx="2.85" ry="3.15"/><ellipse cx="163.5" cy="794.9" rx="2.85" ry="3.15"/><ellipse cx="191.4" cy="777.3" rx="2.85" ry="3.15"/><ellipse cx="196.0" cy="773.8" rx="2.85" ry="3.15"/><ellipse cx="150.2" cy="805.7" rx="2.85" ry="3.15"/><ellipse cx="204.1" cy="768.3" rx="2.85" ry="3.15"/><ellipse cx="191.3" cy="775.7" rx="2.85" ry="3.15"/><ellipse cx="191.9" cy="774.2" rx="2.85" ry="3.15"/><ellipse cx="179.6" cy="786.0" rx="2.85" ry="3.15"/><ellipse cx="160.0" cy="800.8" rx="2.85" ry="3.15"/><ellipse cx="166.5" cy="797.5" rx="2.85" ry="3.15"/><ellipse cx="203.4" cy="770.0" rx="2.85" ry="3.15"/><ellipse cx="182.3" cy="788.0" rx="2.85" ry="3.15"/><ellipse cx="202.5" cy="775.2" rx="2.85" ry="3.15"/><ellipse cx="161.8" cy="796.9" rx="2.85" ry="3.15"/><ellipse cx="199.5" cy="774.3" rx="2.85" ry="3.15"/><ellipse cx="170.6" cy="789.7" rx="2.85" ry="3.15"/><ellipse cx="181.0" cy="783.5" rx="2.85" ry="3.15"/><ellipse cx="199.0" cy="769.1" rx="2.85" ry="3.15"/><ellipse cx="171.7" cy="788.4" rx="2.85" ry="3.15"/><ellipse cx="178.9" cy="783.5" rx="2.85" ry="3.15"/><ellipse cx="169.9" cy="795.6" rx="2.85" ry="3.15"/><ellipse cx="205.9" cy="770.9" rx="2.85" ry="3.15"/><ellipse cx="187.9" cy="781.7" rx="2.85" ry="3.15"/><ellipse cx="190.4" cy="784.1" rx="2.85" ry="3.15"/><ellipse cx="176.3" cy="790.6" rx="2.85" ry="3.15"/><ellipse cx="191.3" cy="780.8" rx="2.85" ry="3.15"/><ellipse cx="195.9" cy="780.4" rx="2.85" ry="3.15"/><ellipse cx="168.6" cy="795.1" rx="2.85" ry="3.15"/><ellipse cx="172.7" cy="793.2" rx="2.85" ry="3.15"/><ellipse cx="198.2" cy="774.8" rx="2.85" ry="3.15"/><ellipse cx="183.0" cy="782.9" rx="2.85" ry="3.15"/><ellipse cx="181.6" cy="786.1" rx="2.85" ry="3.15"/><ellipse cx="189.1" cy="778.7" rx="2.85" ry="3.15"/><ellipse cx="174.3" cy="787.9" rx="2.85" ry="3.15"/><ellipse cx="184.9" cy="786.9" rx="2.85" ry="3.15"/><ellipse cx="201.3" cy="773.9" rx="2.85" ry="3.15"/><ellipse cx="198.0" cy="772.4" rx="2.85" ry="3.15"/><ellipse cx="195.4" cy="769.6" rx="2.85" ry="3.15"/><ellipse cx="194.1" cy="773.2" rx="2.85" ry="3.15"/></g>
<g fill="#000"><ellipse cx="893.4" cy="808.8" rx="3.4" ry="2.85"/><ellipse cx="899.5" cy="804.7" rx="3.4" ry="2.85"/><ellipse cx="902.6" cy="805.9" rx="3.4" ry="2.85"/><ellipse cx="918.2" cy="799.8" rx="3.4" ry="2.85"/><ellipse cx="928.6" cy="795.5" rx="3.4" ry="2.85"/><ellipse cx="931.5" cy="797.2" rx="3.4" ry="2.85"/><ellipse cx="910.2" cy="788.6" rx="3.4" ry="2.85"/><ellipse cx="918.5" cy="786.8" rx="3.4" ry="2.85"/><ellipse cx="948.3" cy="788.6" rx="3.4" ry="2.85"/><ellipse cx="958.3" cy="777.5" rx="3.4" ry="2.85"/><ellipse cx="968.3" cy="776.8" rx="3.4" ry="2.85"/><ellipse cx="921.1" cy="767.5" rx="3.4" ry="2.85"/><ellipse cx="933.3" cy="767.5" rx="3.4" ry="2.85"/><ellipse cx="955.2" cy="756.7" rx="3.4" ry="2.85"/><ellipse cx="1196.7" cy="549.5" rx="3.4" ry="2.85"/><ellipse cx="1254.8" cy="600.3" rx="3.4" ry="2.85"/><ellipse cx="1171.6" cy="662.1" rx="3.4" ry="2.85"/><ellipse cx="1052.1" cy="700.1" rx="3.4" ry="2.85"/><ellipse cx="1010.3" cy="722.7" rx="3.4" ry="2.85"/><ellipse cx="1015.0" cy="739.7" rx="3.4" ry="2.85"/><ellipse cx="1057.1" cy="755.7" rx="3.4" ry="2.85"/><ellipse cx="1064.9" cy="756.6" rx="3.4" ry="2.85"/><ellipse cx="1005.9" cy="762.6" rx="3.4" ry="2.85"/><ellipse cx="1020.0" cy="765.7" rx="3.4" ry="2.85"/><ellipse cx="1012.8" cy="785.8" rx="3.4" ry="2.85"/></g>
<rect x="196.40" y="64.30" width="120.40" height="69.60" fill="#fff" stroke="#2b2b2b" stroke-width="1.2"/>
<rect x="922.50" y="57.50" width="106.10" height="69.50" fill="#fff" stroke="#2b2b2b" stroke-width="1.2"/>
<rect x="202.50" y="519.00" width="120.30" height="69.90" fill="#fff" stroke="#2b2b2b" stroke-width="1.2"/>
<rect x="935.60" y="534.00" width="119.10" height="69.50" fill="#fff" stroke="#2b2b2b" stroke-width="1.2"/>
<g fill="#141414" stroke="#141414" stroke-width="0.28" style="font-family:'Liberation Sans', Arial, sans-serif">
<text x="7.64" y="35.00" textLength="22.17" lengthAdjust="spacingAndGlyphs" style="font-size:29px;font-weight:bold;">A</text>
<text x="93.74" y="34.90" textLength="41.06" lengthAdjust="spacingAndGlyphs" style="font-size:23px;">200</text>
<text x="93.74" y="113.60" textLength="41.06" lengthAdjust="spacingAndGlyphs" style="font-size:23px;">150</text>
<text x="93.74" y="192.30" textLength="41.06" lengthAdjust="spacingAndGlyphs" style="font-size:23px;">100</text>
<text x="107.65" y="271.00" textLength="27.39" lengthAdjust="spacingAndGlyphs" style="font-size:23px;">50</text>
<text x="121.56" y="349.70" textLength="13.69" lengthAdjust="spacingAndGlyphs" style="font-size:23px;">0</text>
<text x="152.44" y="383.90" textLength="13.69" lengthAdjust="spacingAndGlyphs" style="font-size:23px;">0</text>
<text x="249.51" y="383.90" textLength="13.69" lengthAdjust="spacingAndGlyphs" style="font-size:23px;">1</text>
<text x="347.64" y="383.90" textLength="13.69" lengthAdjust="spacingAndGlyphs" style="font-size:23px;">2</text>
<text x="445.24" y="383.90" textLength="13.69" lengthAdjust="spacingAndGlyphs" style="font-size:23px;">3</text>
<text x="542.84" y="383.90" textLength="13.69" lengthAdjust="spacingAndGlyphs" style="font-size:23px;">4</text>
<text x="640.44" y="383.90" textLength="13.69" lengthAdjust="spacingAndGlyphs" style="font-size:23px;">5</text>
<text transform="translate(38.00 295.70) rotate(-90)" x="-1.95" y="0" textLength="100.25" lengthAdjust="spacingAndGlyphs" style="font-size:24px;font-style:italic;">Thalassia</text>
<text transform="translate(38.00 190.60) rotate(-90)" x="-1.05" y="0" textLength="122.92" lengthAdjust="spacingAndGlyphs" style="font-size:24px;font-style:italic;">testudinum</text>
<text transform="translate(69.70 324.30) rotate(-90)" x="-1.98" y="0" textLength="91.31" lengthAdjust="spacingAndGlyphs" style="font-size:24px;">Biomass</text>
<text transform="translate(69.70 229.50) rotate(-90)" x="-1.06" y="0" textLength="43.72" lengthAdjust="spacingAndGlyphs" style="font-size:24px;">(dry</text>
<text transform="translate(69.70 181.90) rotate(-90)" x="-0.00" y="0" textLength="72.59" lengthAdjust="spacingAndGlyphs" style="font-size:24px;">weight</text>
<text transform="translate(69.70 102.90) rotate(-90)" x="-1.14" y="0" textLength="63.43" lengthAdjust="spacingAndGlyphs" style="font-size:24px;">g/m<tspan dy="-7.20" style="font-size:13.92px" stroke="#111" stroke-width="0.45">2</tspan><tspan dy="7.20">)</tspan></text>
<text x="200.03" y="422.60" textLength="101.18" lengthAdjust="spacingAndGlyphs" style="font-size:24px;font-style:italic;">Thalassia</text>
<text x="307.04" y="422.60" textLength="124.14" lengthAdjust="spacingAndGlyphs" style="font-size:24px;font-style:italic;">testudinum</text>
<text x="435.31" y="422.60" textLength="46.68" lengthAdjust="spacingAndGlyphs" style="font-size:24px;">Real</text>
<text x="486.48" y="422.60" textLength="32.77" lengthAdjust="spacingAndGlyphs" style="font-size:24px;">LAI</text>
<text x="200.90" y="91.50" textLength="109.80" lengthAdjust="spacingAndGlyphs" style="font-size:23px;">y = 36.81x</text>
<text x="207.59" y="124.30" textLength="95.44" lengthAdjust="spacingAndGlyphs" style="font-size:23px;">R<tspan dy="-6.90" style="font-size:13.34px" stroke="#111" stroke-width="0.45">2</tspan><tspan dy="6.90"> = 0.95</tspan></text>
<text x="758.12" y="34.50" textLength="20.72" lengthAdjust="spacingAndGlyphs" style="font-size:29px;font-weight:bold;">B</text>
<text x="830.26" y="347.70" textLength="13.69" lengthAdjust="spacingAndGlyphs" style="font-size:23px;">0</text>
<text x="830.26" y="284.80" textLength="13.69" lengthAdjust="spacingAndGlyphs" style="font-size:23px;">1</text>
<text x="830.26" y="221.90" textLength="13.69" lengthAdjust="spacingAndGlyphs" style="font-size:23px;">2</text>
<text x="830.26" y="159.00" textLength="13.69" lengthAdjust="spacingAndGlyphs" style="font-size:23px;">3</text>
<text x="830.26" y="96.10" textLength="13.69" lengthAdjust="spacingAndGlyphs" style="font-size:23px;">4</text>
<text x="830.26" y="33.20" textLength="13.69" lengthAdjust="spacingAndGlyphs" style="font-size:23px;">5</text>
<text x="861.04" y="383.60" textLength="13.69" lengthAdjust="spacingAndGlyphs" style="font-size:23px;">0</text>
<text x="963.75" y="383.60" textLength="13.69" lengthAdjust="spacingAndGlyphs" style="font-size:23px;">1</text>
<text x="1067.53" y="383.60" textLength="13.69" lengthAdjust="spacingAndGlyphs" style="font-size:23px;">2</text>
<text x="1170.77" y="383.60" textLength="13.69" lengthAdjust="spacingAndGlyphs" style="font-size:23px;">3</text>
<text x="1274.01" y="383.60" textLength="13.69" lengthAdjust="spacingAndGlyphs" style="font-size:23px;">4</text>
<text x="1377.25" y="383.60" textLength="13.69" lengthAdjust="spacingAndGlyphs" style="font-size:23px;">5</text>
<text transform="translate(777.20 296.00) rotate(-90)" x="-1.97" y="0" textLength="101.08" lengthAdjust="spacingAndGlyphs" style="font-size:24px;font-style:italic;">Thalassia</text>
<text transform="translate(777.20 190.00) rotate(-90)" x="-1.06" y="0" textLength="123.94" lengthAdjust="spacingAndGlyphs" style="font-size:24px;font-style:italic;">testudinum</text>
<text transform="translate(810.60 254.30) rotate(-90)" x="-2.04" y="0" textLength="109.00" lengthAdjust="spacingAndGlyphs" style="font-size:24px;">Estimated</text>
<text transform="translate(810.60 141.60) rotate(-90)" x="-1.86" y="0" textLength="33.44" lengthAdjust="spacingAndGlyphs" style="font-size:24px;">LAI</text>
<text x="950.03" y="425.30" textLength="101.28" lengthAdjust="spacingAndGlyphs" style="font-size:24px;font-style:italic;">Thalassia</text>
<text x="1057.14" y="425.30" textLength="124.25" lengthAdjust="spacingAndGlyphs" style="font-size:24px;font-style:italic;">testudinum</text>
<text x="1185.21" y="425.30" textLength="46.68" lengthAdjust="spacingAndGlyphs" style="font-size:24px;">Real</text>
<text x="1237.17" y="425.30" textLength="32.88" lengthAdjust="spacingAndGlyphs" style="font-size:24px;">LAI</text>
<text x="928.00" y="83.30" textLength="94.68" lengthAdjust="spacingAndGlyphs" style="font-size:23px;">y = 0.84x</text>
<text x="927.28" y="116.10" textLength="95.75" lengthAdjust="spacingAndGlyphs" style="font-size:23px;">R<tspan dy="-6.90" style="font-size:13.34px" stroke="#111" stroke-width="0.45">2</tspan><tspan dy="6.90"> = 0.71</tspan></text>
<text x="9.09" y="500.40" textLength="21.06" lengthAdjust="spacingAndGlyphs" style="font-size:29px;font-weight:bold;">C</text>
<text x="110.56" y="814.80" textLength="13.69" lengthAdjust="spacingAndGlyphs" style="font-size:23px;">0</text>
<text x="96.65" y="736.10" textLength="27.39" lengthAdjust="spacingAndGlyphs" style="font-size:23px;">20</text>
<text x="96.65" y="657.40" textLength="27.39" lengthAdjust="spacingAndGlyphs" style="font-size:23px;">40</text>
<text x="96.65" y="578.70" textLength="27.39" lengthAdjust="spacingAndGlyphs" style="font-size:23px;">60</text>
<text x="96.65" y="500.00" textLength="27.39" lengthAdjust="spacingAndGlyphs" style="font-size:23px;">80</text>
<text x="141.15" y="850.60" textLength="13.69" lengthAdjust="spacingAndGlyphs" style="font-size:23px;">0</text>
<text x="309.71" y="850.60" textLength="13.69" lengthAdjust="spacingAndGlyphs" style="font-size:23px;">1</text>
<text x="479.35" y="850.60" textLength="13.69" lengthAdjust="spacingAndGlyphs" style="font-size:23px;">2</text>
<text x="648.44" y="850.60" textLength="13.69" lengthAdjust="spacingAndGlyphs" style="font-size:23px;">3</text>
<text transform="translate(46.10 826.70) rotate(-90)" x="-1.01" y="0" textLength="135.24" lengthAdjust="spacingAndGlyphs" style="font-size:24px;font-style:italic;">Syringodium</text>
<text transform="translate(46.10 688.70) rotate(-90)" x="-1.10" y="0" textLength="92.42" lengthAdjust="spacingAndGlyphs" style="font-size:24px;font-style:italic;">filiforme</text>
<text transform="translate(46.10 588.70) rotate(-90)" x="-1.97" y="0" textLength="90.79" lengthAdjust="spacingAndGlyphs" style="font-size:24px;">Biomass</text>
<text transform="translate(78.50 756.60) rotate(-90)" x="-1.07" y="0" textLength="44.03" lengthAdjust="spacingAndGlyphs" style="font-size:24px;">(dry</text>
<text transform="translate(78.50 708.70) rotate(-90)" x="-0.00" y="0" textLength="73.10" lengthAdjust="spacingAndGlyphs" style="font-size:24px;">weight</text>
<text transform="translate(78.50 629.10) rotate(-90)" x="-1.14" y="0" textLength="63.53" lengthAdjust="spacingAndGlyphs" style="font-size:24px;">g/m<tspan dy="-7.20" style="font-size:13.92px" stroke="#111" stroke-width="0.45">2</tspan><tspan dy="7.20">)</tspan></text>
<text x="209.99" y="886.60" textLength="135.24" lengthAdjust="spacingAndGlyphs" style="font-size:24px;font-style:italic;">Syringodium</text>
<text x="349.42" y="886.60" textLength="90.98" lengthAdjust="spacingAndGlyphs" style="font-size:24px;font-style:italic;">filiforme</text>
<text x="447.04" y="886.60" textLength="109.83" lengthAdjust="spacingAndGlyphs" style="font-size:24px;">Estimated</text>
<text x="560.83" y="886.60" textLength="33.67" lengthAdjust="spacingAndGlyphs" style="font-size:24px;">LAI</text>
<text x="206.90" y="546.50" textLength="109.90" lengthAdjust="spacingAndGlyphs" style="font-size:23px;">y = 31.63x</text>
<text x="213.18" y="579.30" textLength="95.86" lengthAdjust="spacingAndGlyphs" style="font-size:23px;">R<tspan dy="-6.90" style="font-size:13.34px" stroke="#111" stroke-width="0.45">2</tspan><tspan dy="6.90"> = 0.91</tspan></text>
<text x="751.33" y="500.30" textLength="21.65" lengthAdjust="spacingAndGlyphs" style="font-size:29px;font-weight:bold;">D</text>
<text x="844.56" y="819.30" textLength="13.69" lengthAdjust="spacingAndGlyphs" style="font-size:23px;">0</text>
<text x="844.56" y="766.90" textLength="13.69" lengthAdjust="spacingAndGlyphs" style="font-size:23px;">5</text>
<text x="830.65" y="714.50" textLength="27.39" lengthAdjust="spacingAndGlyphs" style="font-size:23px;">10</text>
<text x="830.65" y="662.10" textLength="27.39" lengthAdjust="spacingAndGlyphs" style="font-size:23px;">15</text>
<text x="830.65" y="609.70" textLength="27.39" lengthAdjust="spacingAndGlyphs" style="font-size:23px;">20</text>
<text x="830.65" y="557.30" textLength="27.39" lengthAdjust="spacingAndGlyphs" style="font-size:23px;">25</text>
<text x="830.65" y="504.90" textLength="27.39" lengthAdjust="spacingAndGlyphs" style="font-size:23px;">30</text>
<text x="875.94" y="854.80" textLength="13.69" lengthAdjust="spacingAndGlyphs" style="font-size:23px;">0</text>
<text x="988.78" y="854.80" textLength="34.22" lengthAdjust="spacingAndGlyphs" style="font-size:23px;">0.2</text>
<text x="1111.78" y="854.80" textLength="34.22" lengthAdjust="spacingAndGlyphs" style="font-size:23px;">0.4</text>
<text x="1234.78" y="854.80" textLength="34.22" lengthAdjust="spacingAndGlyphs" style="font-size:23px;">0.6</text>
<text x="1357.78" y="854.80" textLength="34.22" lengthAdjust="spacingAndGlyphs" style="font-size:23px;">0.8</text>
<text transform="translate(777.00 777.70) rotate(-90)" x="-0.99" y="0" textLength="93.72" lengthAdjust="spacingAndGlyphs" style="font-size:24px;font-style:italic;">Halodule</text>
<text transform="translate(777.00 677.40) rotate(-90)" x="-1.08" y="0" textLength="80.95" lengthAdjust="spacingAndGlyphs" style="font-size:24px;font-style:italic;">wrightii</text>
<text transform="translate(777.00 588.70) rotate(-90)" x="-1.97" y="0" textLength="90.48" lengthAdjust="spacingAndGlyphs" style="font-size:24px;">Biomass</text>
<text transform="translate(808.60 732.90) rotate(-90)" x="-1.06" y="0" textLength="43.82" lengthAdjust="spacingAndGlyphs" style="font-size:24px;">(dry</text>
<text transform="translate(808.60 685.20) rotate(-90)" x="-0.00" y="0" textLength="72.69" lengthAdjust="spacingAndGlyphs" style="font-size:24px;">weight</text>
<text transform="translate(808.60 606.10) rotate(-90)" x="-1.14" y="0" textLength="63.43" lengthAdjust="spacingAndGlyphs" style="font-size:24px;">g/m<tspan dy="-7.20" style="font-size:13.92px" stroke="#111" stroke-width="0.45">2</tspan><tspan dy="7.20">)</tspan></text>
<text x="960.40" y="891.00" textLength="95.04" lengthAdjust="spacingAndGlyphs" style="font-size:24px;font-style:italic;">Halodule</text>
<text x="1062.01" y="891.00" textLength="81.65" lengthAdjust="spacingAndGlyphs" style="font-size:24px;font-style:italic;">wrightii</text>
<text x="1149.12" y="891.00" textLength="111.17" lengthAdjust="spacingAndGlyphs" style="font-size:24px;">Estimated</text>
<text x="1264.42" y="891.00" textLength="33.78" lengthAdjust="spacingAndGlyphs" style="font-size:24px;">LAI</text>
<text x="939.80" y="561.50" textLength="109.80" lengthAdjust="spacingAndGlyphs" style="font-size:23px;">y = 33.33x</text>
<text x="946.28" y="593.80" textLength="96.17" lengthAdjust="spacingAndGlyphs" style="font-size:23px;">R<tspan dy="-6.90" style="font-size:13.34px" stroke="#111" stroke-width="0.45">2</tspan><tspan dy="6.90"> = 0.83</tspan></text>
</g></svg></body></html>
